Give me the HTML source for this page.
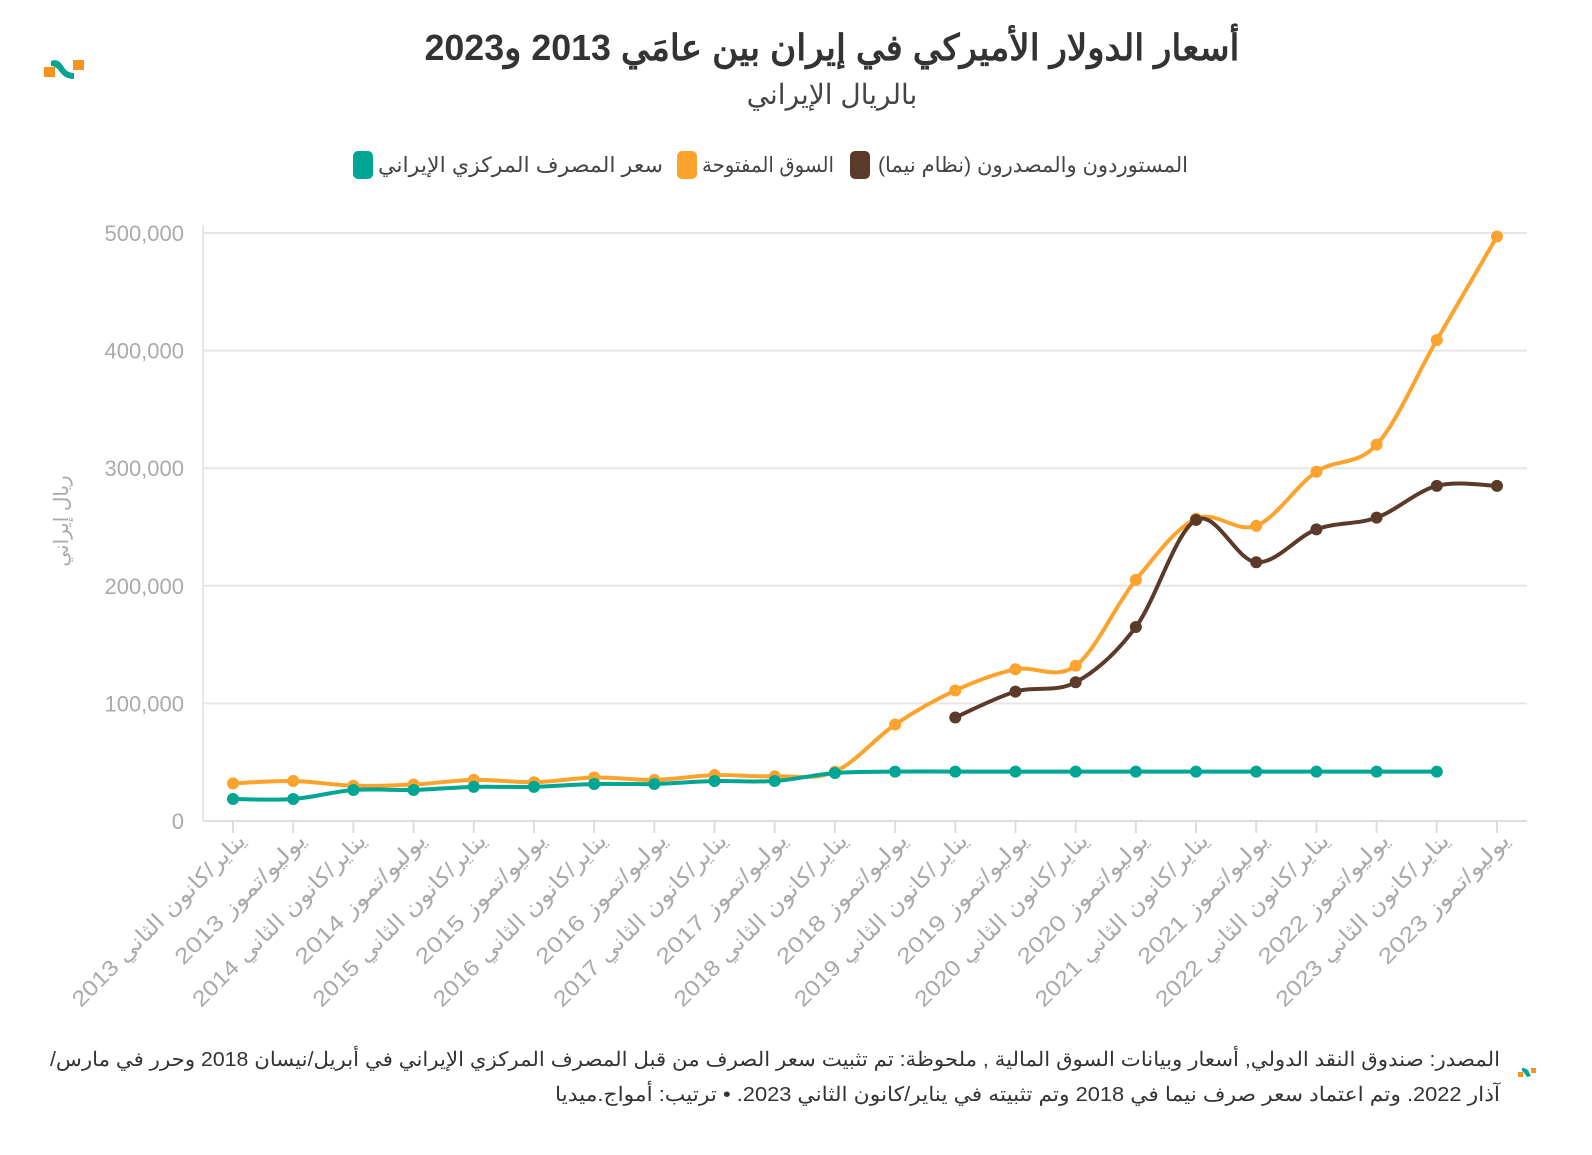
<!DOCTYPE html>
<html><head><meta charset="utf-8"><style>
body{margin:0;background:#fff;width:1592px;height:1150px;overflow:hidden;font-family:"Liberation Sans","Noto Sans CJK SC",sans-serif}
</style></head><body>
<svg id="s" width="1592" height="1150" xmlns="http://www.w3.org/2000/svg" font-family="Liberation Sans, Noto Sans CJK SC, sans-serif">
<rect x="44" y="67" width="11" height="10" fill="#f7941d"/><rect x="73" y="60" width="11" height="10" fill="#f7941d"/>
<path d="M51 61 Q58 58 63 66 Q67 73 74 73 L74 79 Q65 79 60 72 Q56 66 51 66Z" fill="#00a693"/>
<text x="832" y="60" text-anchor="middle" font-size="36" font-weight="bold" fill="#333" textLength="815" lengthAdjust="spacingAndGlyphs">أسعار الدولار الأميركي في إيران بين عامَي 2013 و2023</text>
<text x="832" y="104" text-anchor="middle" font-size="28" fill="#444">بالريال الإيراني</text>
<rect x="850" y="151" width="20" height="28" rx="5" fill="#5b3a29"/>
<text x="1188" y="172" text-anchor="end" font-size="21" fill="#444" textLength="310" lengthAdjust="spacingAndGlyphs">المستوردون والمصدرون (نظام نيما)</text>
<rect x="677" y="151" width="20" height="28" rx="5" fill="#fca32d"/>
<text x="834" y="172" text-anchor="end" font-size="21" fill="#444" textLength="132" lengthAdjust="spacingAndGlyphs">السوق المفتوحة</text>
<rect x="353" y="151" width="20" height="28" rx="5" fill="#00a693"/>
<text x="663" y="172" text-anchor="end" font-size="21" fill="#444" textLength="285" lengthAdjust="spacingAndGlyphs">سعر المصرف المركزي الإيراني</text>
<g id="g"></g>
<text transform="translate(68,521) rotate(-90)" text-anchor="middle" font-size="20" fill="#aaa">ريال إيراني</text>
<text x="1500" y="1066" text-anchor="end" font-size="20" fill="#333" textLength="1450" lengthAdjust="spacingAndGlyphs">المصدر: صندوق النقد الدولي, أسعار وبيانات السوق المالية , ملحوظة: تم تثبيت سعر الصرف من قبل المصرف المركزي الإيراني في أبريل/نيسان 2018 وحرر في مارس/&#x200F;</text>
<text x="1500" y="1101" text-anchor="end" font-size="20" fill="#333" textLength="945" lengthAdjust="spacingAndGlyphs">آذار 2022. وتم اعتماد سعر صرف نيما في 2018 وتم تثبيته في يناير/كانون الثاني 2023. • ترتيب: أمواج.ميديا</text>
<rect x="1518" y="1072" width="5" height="5" fill="#f7941d"/><rect x="1531" y="1068" width="5" height="5" fill="#f7941d"/>
<path d="M1522 1068 Q1527 1068 1529 1072 L1531 1076 L1527 1077 Q1524 1072 1522 1071Z" fill="#00a693"/>
</svg>
<script>
var g=document.getElementById('g'),h='';
function Y(v){return 821-v/500000*588}
function X(i){return 233+i*60.19}
for(var k=0;k<=5;k++){var y=Y(k*100000);h+='<line x1="203" x2="1527" y1="'+y+'" y2="'+y+'" stroke="'+(k?'#e6e6e6':'#ddd')+'" stroke-width="2"/>';
h+='<text x="184" y="'+(y+8)+'" text-anchor="end" font-size="22" fill="#aaa">'+(k?k*100+',000':'0')+'</text>';}
h+='<line x1="203" x2="203" y1="225" y2="821" stroke="#e6e6e6" stroke-width="2"/>';
var yrs=[2013,2013,2014,2014,2015,2015,2016,2016,2017,2017,2018,2018,2019,2019,2020,2020,2021,2021,2022,2022,2023,2023];
for(var i=0;i<22;i++){var x=X(i);h+='<line x1="'+x+'" x2="'+x+'" y1="821" y2="833" stroke="#ddd" stroke-width="2"/>';
var t=(i%2==0?'يناير/كانون الثاني ':'يوليو/تموز ')+yrs[i];
var L=(i%2==0?235:175);
h+='<text transform="translate('+(x+14)+',842) rotate(-45)" text-anchor="end" font-size="22" fill="#aaa" textLength="'+L+'" lengthAdjust="spacingAndGlyphs">'+t+'</text>';}
function path(d,o,c){var p=d.map(function(v,i){return[X(i+o),Y(v)]});var s='M'+p[0];
for(var i=0;i<p.length-1;i++){var a=p[i-1]||p[i],b=p[i],c2=p[i+1],e=p[i+2]||c2;
s+=' C'+(b[0]+(c2[0]-a[0])/6)+','+(b[1]+(c2[1]-a[1])/6)+' '+(c2[0]-(e[0]-b[0])/6)+','+(c2[1]-(e[1]-b[1])/6)+' '+c2;}
var r='<path d="'+s+'" fill="none" stroke="'+c+'" stroke-width="4"/>';
p.forEach(function(q){r+='<circle cx="'+q[0]+'" cy="'+q[1]+'" r="6" fill="'+c+'"/>'});return r;}
var cb=[18700,18700,26400,26400,29000,29000,31500,31500,34000,34000,40800,42000,42000,42000,42000,42000,42000,42000,42000,42000,42000];
var op=[32000,34000,30000,31000,35000,33000,37000,35000,39000,38000,42000,82000,111000,129000,132000,205000,257000,251000,297000,320000,409000,497000];
var nm=[88000,110000,118000,165000,256000,220000,248000,258000,285000,285000];
h+=path(op,0,'#fca32d')+path(nm,12,'#5b3a29')+path(cb,0,'#00a693');
g.innerHTML=h;
</script>
</body></html>
